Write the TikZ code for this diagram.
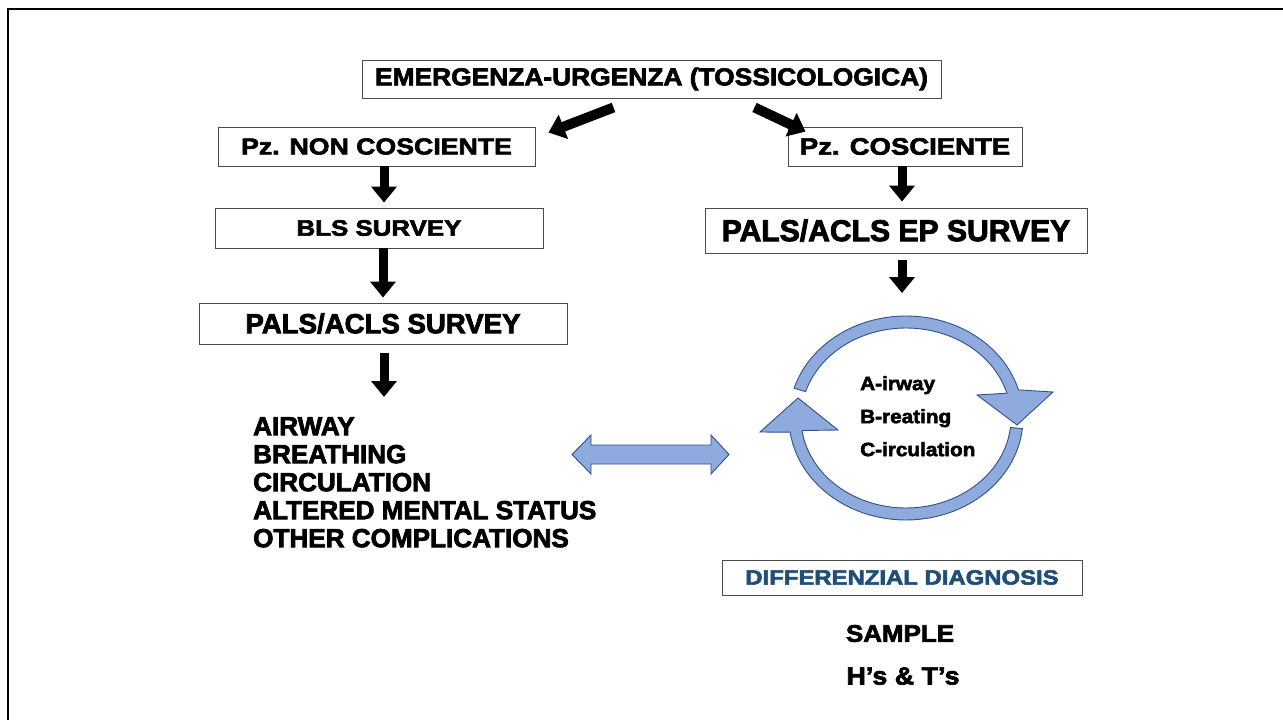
\documentclass[tikz,border=0pt]{standalone}
\usepackage{fontspec}
\setmainfont{Liberation Sans}
\newfontfamily\fnar{Liberation Sans}[FakeStretch=1.00, BoldFeatures={FakeBold=2.8}]
\newfontfamily\fmid{Liberation Sans}[FakeStretch=1.08, BoldFeatures={FakeBold=2.8}]
\newfontfamily\fwide{Liberation Sans}[FakeStretch=1.16, BoldFeatures={FakeBold=2.8}]
\usetikzlibrary{arrows.meta}
\definecolor{cycfill}{HTML}{8FAADC}
\definecolor{cycline}{HTML}{2F528F}
\definecolor{ddblue}{HTML}{1F4E79}
\newcommand\fsz[1]{\bfseries\fontsize{#1}{#1}\selectfont}
\begin{document}
\begin{tikzpicture}[x=1pt, y=-1pt,
  stepbox/.style={draw=black!70, line width=0.9pt, fill=white, inner sep=0pt, anchor=center},
  blk/.style={black, line width=9pt, -{Triangle[width=25pt,length=16pt]}},
  bluearrow/.style={fill=cycfill, draw=cycline, line width=0.9pt, line join=miter},
  txt/.style={inner sep=0pt, align=left}]
\useasboundingbox (0,0) rectangle (1283,720);
\fill[white] (0,0) rectangle (1283,720);
% frame
\draw[line width=2.5pt] (8,722) -- (8,9) -- (1285,9);

% boxes
\node[stepbox, minimum width=579pt, minimum height=38pt, font=\fmid\fsz{24.4}] (top) at (651.5,79) {EMERGENZA-URGENZA (TOSSICOLOGICA)};
\node[stepbox, minimum width=317pt, minimum height=39pt, font=\fwide\fsz{23}] (nc) at (376.5,146.5) {Pz. NON COSCIENTE};
\node[stepbox, minimum width=234pt, minimum height=39pt, font=\fwide\fsz{23.7}] (pc) at (905,146.5) {Pz. COSCIENTE};
\node[stepbox, minimum width=328pt, minimum height=40pt, font=\fwide\fsz{22.3}] (bls) at (379,228) {BLS SURVEY};
\node[stepbox, minimum width=368pt, minimum height=41pt, font=\fnar\fsz{27.6}] (pals) at (383,323.5) {PALS/ACLS SURVEY};
\node[stepbox, minimum width=382pt, minimum height=45pt, font=\fnar\fsz{30.1}] (ep) at (896,230.5) {PALS/ACLS EP SURVEY};
\node[stepbox, minimum width=360pt, minimum height=35pt, text=ddblue, font=\fwide\fsz{20.6}] (dd) at (902,577.5) {DIFFERENZIAL DIAGNOSIS};

% text lists
\node[txt, anchor=north west, font={\fnar\bfseries\fontsize{26.1}{28}\selectfont}] (abc) at (253,417)
  {AIRWAY\\BREATHING\\CIRCULATION\\ALTERED MENTAL STATUS\\OTHER COMPLICATIONS};
\node[txt, anchor=north west, font={\fmid\bfseries\fontsize{19.2}{33}\selectfont}] (abcin) at (860,376)
  {A-irway\\B-reating\\C-irculation};
\node[txt, font=\fmid\fsz{24}] (sample) at (900,633.5) {SAMPLE};
\node[txt, font=\fmid\fsz{24.9}] (hts) at (903,676) {H’s \& T’s};

% cycle of the primary survey
\coordinate (cyc) at (906,418);
\coordinate (cyctop) at (906,316);
\draw[bluearrow] plot[domain=197:344, samples=50] ({906+117*cos(\x)},{418+102*sin(\x)})
  -- (1053,392) -- (1017,425) -- (977,395)
  -- plot[domain=344:197, samples=50] ({906+105*cos(\x)},{418+90*sin(\x)}) -- cycle;
\draw[bluearrow] plot[domain=6:172, samples=50] ({906+117*cos(\x)},{418+102*sin(\x)})
  -- (760,432) -- (798,398) -- (838,430)
  -- plot[domain=172:6, samples=50] ({906+105*cos(\x)},{418+90*sin(\x)}) -- cycle;

% double arrow between the two assessments
\coordinate (dbl) at (650.5,454.5);
\draw[bluearrow] (dbl) ++(-78.5,0) -- ++(19,-19.5) -- ++(0,10) -- ++(120,0) -- ++(0,-10)
  -- ++(18,19.5) -- ++(-18,19.5) -- ++(0,-10) -- ++(-120,0) -- ++(0,10) -- cycle;

% black arrows
\draw[blk, line width=10pt] ([shift={(-38,9)}]top.south) -- ([shift={(13,6)}]nc.north east);
\draw[blk, line width=10pt] ([shift={(103,9)}]top.south) -- ([shift={(18,5)}]pc.north west);
\draw[blk, shorten >=5pt] ([xshift=7.5pt]nc.south) -- ([xshift=5pt]bls.north);
\draw[blk, shorten >=5pt] ([xshift=4pt]bls.south) -- ([xshift=0pt]pals.north);
\draw[blk, shorten <=9pt, shorten >=20pt] ([xshift=1pt]pals.south) -- ([xshift=1pt]pals.south |- abc.north);
\draw[blk, shorten >=6pt] ([xshift=-3pt]pc.south) -- ([xshift=6pt]ep.north);
\draw[blk, shorten <=7pt, shorten >=23pt] ([xshift=6pt]ep.south) -- ([xshift=6pt]ep.south |- cyctop);
\end{tikzpicture}
\end{document}
